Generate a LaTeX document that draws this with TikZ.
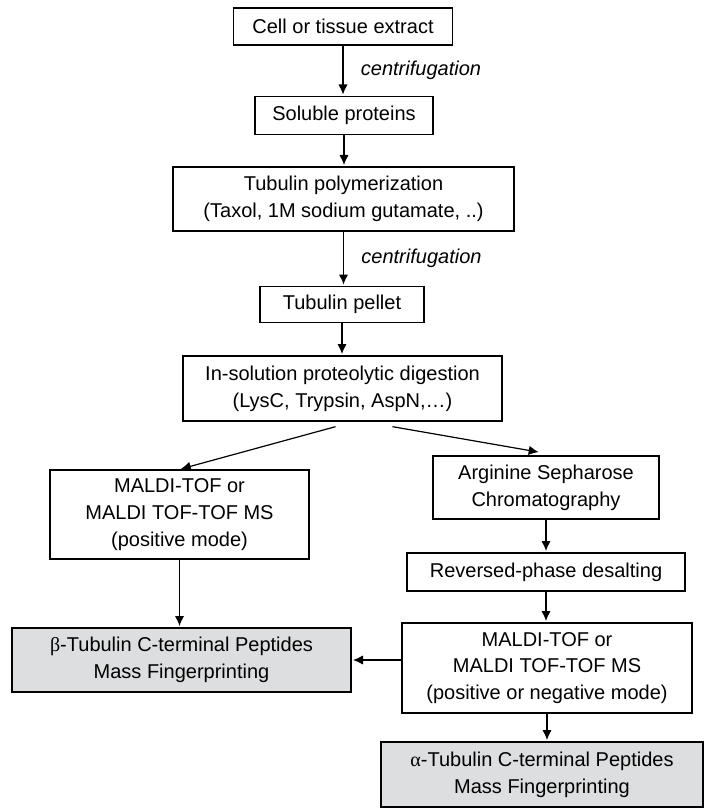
\documentclass[tikz,border=0pt]{standalone}
\usepackage{fontspec}
\setmainfont{Liberation Sans}
\newfontfamily\greekfont{Liberation Serif}
\usepackage{tikz}
\usetikzlibrary{arrows.meta}
\definecolor{pepgray}{RGB}{221,222,223}
\tikzset{every picture/.style={line width=0.75pt}}
\tikzset{
	stepbox/.style={draw, line width=1pt, align=center, inner sep=0pt, font=\fontsize{15}{20}\selectfont},
	resultbox/.style={stepbox, fill=pepgray},
	flow/.style={-{Latex[length=7.5pt,width=7pt]}, line width=0.9pt, shorten >=1pt},
	note/.style={font=\fontsize{15}{20}\selectfont\itshape, inner sep=0pt, anchor=west}
}

\begin{document}
\begin{tikzpicture}[x=0.75pt,y=0.75pt,yscale=-1,xscale=1]
		\useasboundingbox (0,0) rectangle (704,809); %set diagram left start at 0, and has height of 809
		
		%Shape: Rectangle [main column]
		\node[stepbox, minimum width=164.25pt, minimum height=27.75pt] (extract) at (343,26.5) {Cell or tissue extract};
		\node[stepbox, minimum width=133.5pt, minimum height=28.5pt] (soluble) at (344,115.5) {Soluble proteins};
		\node[stepbox, minimum width=255.75pt, minimum height=48pt] (polymer) at (343.5,199) {Tubulin polymerization\\(Taxol, 1M sodium gutamate, ..)};
		\node[stepbox, minimum width=123pt, minimum height=27pt] (pellet) at (342,304.5) {Tubulin pellet};
		\node[stepbox, minimum width=239.25pt, minimum height=48.75pt] (digest) at (342.5,388.5) {In-solution proteolytic digestion\\(LysC, Trypsin, AspN,\dots)};
		
		%Shape: Rectangle [left branch]
		\node[stepbox, minimum width=194.25pt, minimum height=66.75pt] (maldiL) at (179.5,514.5) {MALDI-TOF or\\MALDI TOF-TOF MS\\(positive mode)};
		\node[resultbox, minimum width=254.25pt, minimum height=48pt] (beta) at (181.5,660) {{\greekfont β}-Tubulin C-terminal Peptides\\Mass Fingerprinting};
		
		%Shape: Rectangle [right branch]
		\node[stepbox, minimum width=169.5pt, minimum height=47.25pt] (arginine) at (546,487.5) {Arginine Sepharose\\Chromatography};
		\node[stepbox, minimum width=208.5pt, minimum height=28.5pt] (desalt) at (546,572) {Reversed-phase desalting};
		\node[stepbox, minimum width=217.5pt, minimum height=67.5pt] (maldiR) at (547,668) {MALDI-TOF or\\MALDI TOF-TOF MS\\(positive or negative mode)};
		\node[resultbox, minimum width=241.5pt, minimum height=48.75pt] (alpha) at (542,774.5) {{\greekfont α}-Tubulin C-terminal Peptides\\Mass Fingerprinting};
		
		%Straight Lines
		\draw[flow] (extract) -- (extract |- soluble.north) node[note, midway, xshift=13pt] {centrifugation};
		\draw[flow] (soluble) -- (soluble |- polymer.north);
		\draw[flow] (polymer) -- (polymer |- pellet.north) node[note, midway, xshift=13pt] {centrifugation};
		\draw[flow] (pellet) -- (pellet |- digest.north);
		
		%Straight Lines
		\draw[flow] ([shift={(-7,5)}]digest.south) -- (maldiL.north);
		\draw[flow] ([shift={(50,5)}]digest.south) -- ([shift={(-6,-3)}]arginine.north);
		
		%Straight Lines
		\draw[flow] (maldiL) -- (maldiL |- beta.north);
		\draw[flow] (beta.east -| maldiR.west) -- (beta.east);
		\draw[flow] (arginine) -- (arginine |- desalt.north);
		\draw[flow] (desalt) -- (desalt |- maldiR.north);
		\draw[flow] (maldiR) -- (maldiR |- alpha.north);
		
\end{tikzpicture}
\end{document}
